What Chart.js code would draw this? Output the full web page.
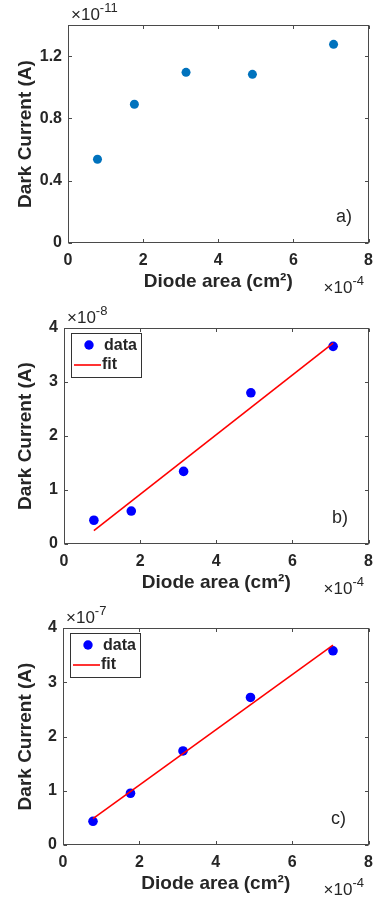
<!DOCTYPE html>
<html>
<head>
<meta charset="utf-8">
<script src="https://cdn.jsdelivr.net/npm/chart.js@4.4.0/dist/chart.umd.min.js"></script>
<style>
  body { margin: 0; background: #fff; width: 381px; height: 905px; overflow: hidden; }
  .panel { position: absolute; left: 0; }
</style>
</head>
<body>
<div class="panel" style="top:0px"><canvas id="chartA" width="381" height="300"></canvas></div>
<div class="panel" style="top:300px"><canvas id="chartB" width="381" height="300"></canvas></div>
<div class="panel" style="top:600px"><canvas id="chartC" width="381" height="305"></canvas></div>
<script>
// diode areas, in 1e-4 cm^2
var areas = [0.785, 1.767, 3.142, 4.909, 7.069];
// dark current: a) x1e-11 A, b) x1e-8 A, c) x1e-7 A
var currentA = [0.538, 0.891, 1.096, 1.083, 1.276];
var currentB = [0.44, 0.61, 1.344, 2.80, 3.66];
var currentC = [0.437, 0.954, 1.734, 2.72, 3.58];
// end points of the fitted lines
var fitX = [0.785, 7.069];
var fitB = [0.246, 3.72];
var fitC = [0.485, 3.685];
// axis ticks
var xTicks = [0, 2, 4, 6, 8];
var yTicksA = [0, 0.4, 0.8, 1.2];
var yTicksBC = [0, 1, 2, 3, 4];

var FONT = "'Liberation Sans', Arial, Helvetica, sans-serif";
var TXT = '#262626';

function pts(xs, ys) {
  return xs.map(function(x, i) { return {x: x, y: ys[i]}; });
}

// draws the matlab style box, inward ticks, exponents, panel tag and legend
var matlabBox = {
  id: 'matlabBox',
  beforeDatasetsDraw: function(chart) {
    var a = chart.chartArea, ctx = chart.ctx;
    var l = Math.round(a.left) + 0.5, r = Math.round(a.right) - 0.5;
    var t = Math.round(a.top) + 0.5, b = Math.round(a.bottom) - 0.5;
    ctx.save();
    ctx.strokeStyle = '#4a4a4a';
    ctx.lineWidth = 1;
    ctx.strokeRect(l, t, r - l, b - t);
    var tl = 3.5;
    ctx.beginPath();
    chart.scales.x.ticks.forEach(function(tk) {
      var px = Math.round(chart.scales.x.getPixelForValue(tk.value)) + 0.5;
      ctx.moveTo(px, b); ctx.lineTo(px, b - tl);
      ctx.moveTo(px, t); ctx.lineTo(px, t + tl);
    });
    chart.scales.y.ticks.forEach(function(tk) {
      var py = Math.round(chart.scales.y.getPixelForValue(tk.value)) + 0.5;
      ctx.moveTo(l, py); ctx.lineTo(l + tl, py);
      ctx.moveTo(r, py); ctx.lineTo(r - tl, py);
    });
    ctx.stroke();
    ctx.restore();
  },
  afterDraw: function(chart, args, opts) {
    var a = chart.chartArea, ctx = chart.ctx;
    ctx.save();
    ctx.fillStyle = TXT;
    ctx.textBaseline = 'alphabetic';
    ctx.textAlign = 'left';

    function expo(x, y, e) {
      ctx.font = '17px ' + FONT;
      ctx.fillText('\u00d710', x, y);
      var w = ctx.measureText('\u00d710').width;
      ctx.font = '13px ' + FONT;
      ctx.fillText(e, x + w, y - 8);
    }
    expo(a.left + 3, a.top - 5, opts.yExp);
    expo(a.right - 45, a.bottom + 50, opts.xExp);

    ctx.font = '18px ' + FONT;
    ctx.fillText(opts.tag, a.left + 268, a.bottom - 21);

    if (opts.legend) {
      var d = chart.data.datasets;
      var lx = a.left + 7, ly = a.top + 5, lw = 70, lh = 44;
      ctx.fillStyle = '#fff';
      ctx.fillRect(lx, ly, lw, lh);
      ctx.strokeStyle = '#333';
      ctx.lineWidth = 1;
      ctx.strokeRect(lx + 0.5, ly + 0.5, lw, lh);
      // data row
      ctx.fillStyle = d[0].backgroundColor;
      ctx.beginPath();
      ctx.arc(lx + 18, ly + 12, 4.7, 0, Math.PI * 2);
      ctx.fill();
      // fit row
      ctx.strokeStyle = d[1].borderColor;
      ctx.lineWidth = 1.6;
      ctx.beginPath();
      ctx.moveTo(lx + 3, ly + 32);
      ctx.lineTo(lx + 30, ly + 32);
      ctx.stroke();
      ctx.fillStyle = TXT;
      ctx.font = 'bold 16px ' + FONT;
      ctx.textBaseline = 'middle';
      ctx.fillText(d[0].label, lx + 33, ly + 13);
      ctx.fillText(d[1].label, lx + 31, ly + 32);
    }
    ctx.restore();
  }
};

function makeChart(id, geo, datasets, yMax, yTicks, box) {
  var ctx = document.getElementById(id);
  return new Chart(ctx, {
    type: 'scatter',
    data: { datasets: datasets },
    plugins: [matlabBox],
    options: {
      responsive: false,
      animation: false,
      events: [],
      layout: { padding: { top: geo.top, right: 381 - geo.right, left: 0, bottom: 0 } },
      plugins: {
        legend: { display: false },
        tooltip: { enabled: false },
        matlabBox: box
      },
      scales: {
        x: {
          type: 'linear', min: 0, max: 8,
          afterFit: function(s) { s.height = geo.h - geo.bottom; },
          afterBuildTicks: function(s) { s.ticks = xTicks.map(function(v) { return {value: v}; }); },
          grid: { display: false, drawTicks: false },
          border: { display: false },
          ticks: { padding: 8, color: TXT, maxRotation: 0, autoSkip: false,
                   font: { family: FONT, size: 16, weight: 'bold' },
                   callback: function(v) { return String(v); } },
          title: { display: true, text: 'Diode area (cm\u00b2)', color: TXT,
                   font: { family: FONT, size: 19, weight: 'bold' },
                   padding: { top: 0, bottom: geo.titleB } }
        },
        y: {
          type: 'linear', min: 0, max: yMax,
          afterFit: function(s) { s.width = geo.left; },
          afterBuildTicks: function(s) { s.ticks = yTicks.map(function(v) { return {value: v}; }); },
          grid: { display: false, drawTicks: false },
          border: { display: false },
          ticks: { padding: 6, color: TXT, autoSkip: false,
                   font: { family: FONT, size: 16, weight: 'bold' },
                   callback: function(v) { return String(v); } },
          title: { display: true, text: 'Dark Current (A)', color: TXT,
                   font: { family: FONT, size: 19, weight: 'bold' },
                   padding: { top: 14, bottom: 0 } }
        }
      }
    }
  });
}

makeChart('chartA', {top: 25, right: 376, left: 68, bottom: 243, h: 300, titleB: 7}, [
  { label: 'data', data: pts(areas, currentA), backgroundColor: '#0072bd', borderColor: '#0072bd',
    pointRadius: 4.5, pointBorderWidth: 0 }
], 1.4, yTicksA, { xExp: '-4', yExp: '-11', tag: 'a)', legend: false });

makeChart('chartB', {top: 28, right: 376, left: 64, bottom: 244, h: 300, titleB: 6}, [
  { label: 'data', data: pts(areas, currentB), backgroundColor: '#0000ff', borderColor: '#0000ff',
    pointRadius: 4.8, pointBorderWidth: 0, order: 2 },
  { label: 'fit', data: pts(fitX, fitB), showLine: true, borderColor: '#ff0000', borderWidth: 1.6,
    pointRadius: 0, order: 1 }
], 4, yTicksBC, { xExp: '-4', yExp: '-8', tag: 'b)', legend: true });

makeChart('chartC', {top: 28, right: 376, left: 63, bottom: 245, h: 305, titleB: 10}, [
  { label: 'data', data: pts(areas, currentC), backgroundColor: '#0000ff', borderColor: '#0000ff',
    pointRadius: 4.8, pointBorderWidth: 0, order: 2 },
  { label: 'fit', data: pts(fitX, fitC), showLine: true, borderColor: '#ff0000', borderWidth: 1.6,
    pointRadius: 0, order: 1 }
], 4, yTicksBC, { xExp: '-4', yExp: '-7', tag: 'c)', legend: true });
</script>
</body>
</html>
